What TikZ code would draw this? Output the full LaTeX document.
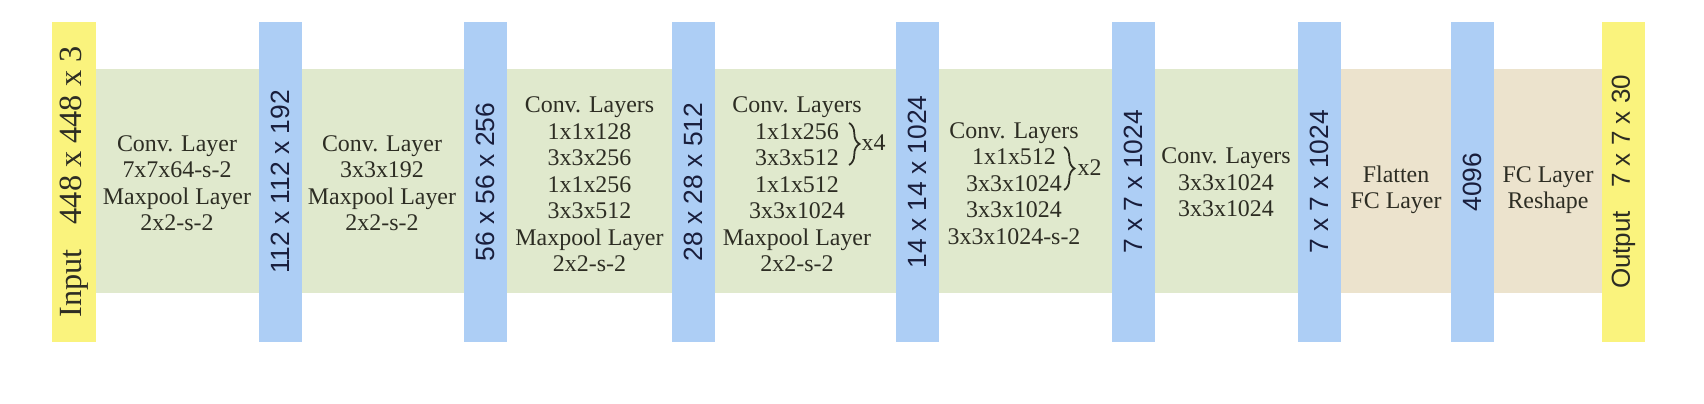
\documentclass[tikz,border=0pt]{standalone}
\usepackage{fontspec}
\setmainfont{Liberation Serif}
\setsansfont{Liberation Sans}
\usepackage{tikz}
\usetikzlibrary{decorations.pathreplacing}

\definecolor{inyellow}{RGB}{250,243,125}
\definecolor{dimblue}{RGB}{173,206,245}
\definecolor{convgreen}{RGB}{224,233,205}
\definecolor{fctan}{RGB}{236,227,205}
\definecolor{txt}{RGB}{45,45,35}
\definecolor{dimtxt}{RGB}{25,30,60}

\begin{document}
\begin{tikzpicture}[
    x=0.01cm, y=-0.01cm,
    bar/.style={rotate=90, minimum width=3.2cm, minimum height=0.43cm, inner sep=0pt},
    dim/.style={bar, fill=dimblue, text=dimtxt, font=\sffamily\fontsize{7.5}{8}\selectfont},
    io/.style={bar, fill=inyellow, text=txt},
    layer/.style={align=center, inner sep=0pt, text=txt, font=\fontsize{6.8}{7.54}\selectfont},
    rep/.style={draw=txt, line width=0.5pt, decorate, decoration={brace, amplitude=3pt}}
]
\useasboundingbox (0,0) rectangle (1704,404);

% bands behind the bars
\fill[convgreen] (96,69) rectangle (1341,293);
\fill[fctan] (1341,69) rectangle (1602,293);

% input and output
\node[io, font=\fontsize{9.2}{10}\selectfont] (in) at (74,182) {Input\hspace{2.5mm}448 x 448 x 3};
\node[io, font=\sffamily\fontsize{7.4}{8}\selectfont] (out) at (1623.5,182) {Output\hspace{2.3mm}7 x 7 x 30};

% feature map sizes
\node[dim] (d1) at (280.5,182) {112 x 112 x 192};
\node[dim] (d2) at (485.5,182) {56 x 56 x 256};
\node[dim] (d3) at (693.5,182) {28 x 28 x 512};
\node[dim] (d4) at (917.5,182) {14 x 14 x 1024};
\node[dim] (d5) at (1133.5,182) {7 x 7 x 1024};
\node[dim] (d6) at (1319.5,182) {7 x 7 x 1024};
\node[dim] (d7) at (1472.5,182) {4096};

% layers
\node[layer] (l1) at (177,183) {Conv. Layer\\7x7x64-s-2\\Maxpool Layer\\2x2-s-2};
\node[layer] (l2) at (382,183) {Conv. Layer\\3x3x192\\Maxpool Layer\\2x2-s-2};
\node[layer] (l3) at (589.5,184.5) {Conv. Layers\\1x1x128\\3x3x256\\1x1x256\\3x3x512\\Maxpool Layer\\2x2-s-2};
\node[layer] (l4) at (797,184.5) {Conv. Layers\\1x1x256\\3x3x512\\1x1x512\\3x3x1024\\Maxpool Layer\\2x2-s-2};
\node[layer] (l5) at (1014,183.5) {Conv. Layers\\1x1x512\\3x3x1024\\3x3x1024\\3x3x1024-s-2};
\node[layer] (l6) at (1226,182.5) {Conv. Layers\\3x3x1024\\3x3x1024};
\node[layer] (l7) at (1396,190) {Flatten\\FC Layer};
\node[layer] (l8) at (1548,190) {FC Layer\\Reshape};

% repeats
\draw[rep] (849,123) -- (849,165);
\node[layer, anchor=west] (r4) at (861,143) {x4};
\draw[rep] (1064,147) -- (1064,190);
\node[layer, anchor=west] (r5) at (1077,168) {x2};
\end{tikzpicture}
\end{document}
